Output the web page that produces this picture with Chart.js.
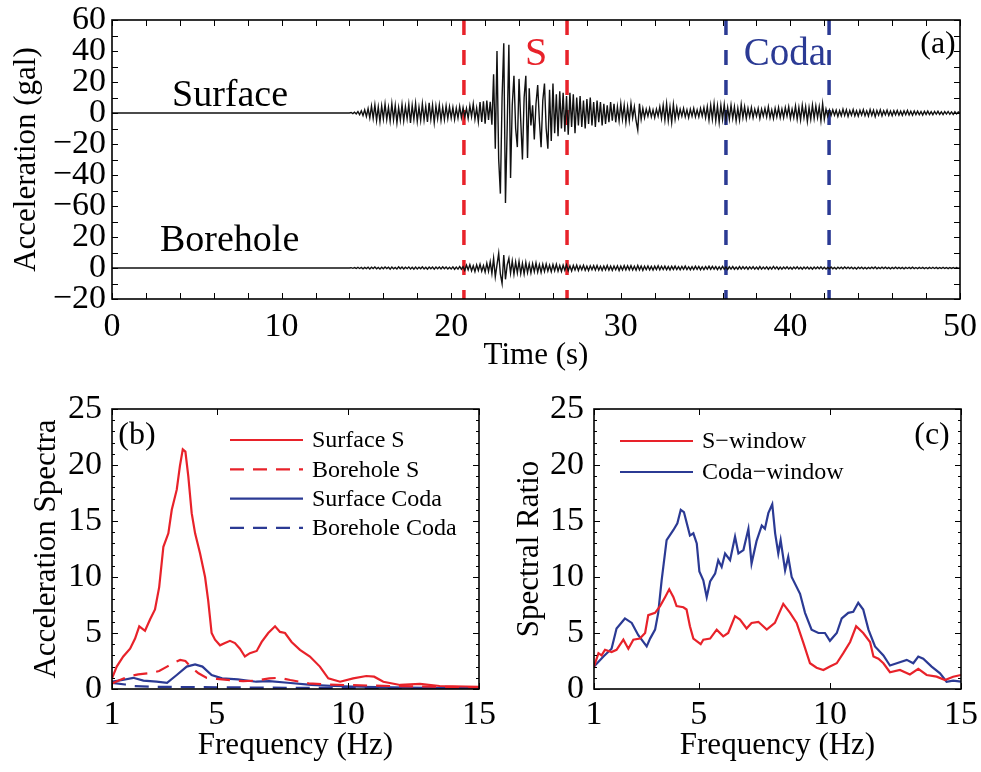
<!DOCTYPE html>
<html lang="en">
<head>
<meta charset="UTF-8">
<title>Surface and borehole records</title>
<script src="https://cdn.jsdelivr.net/npm/chart.js"></script>
<style>
    html, body { margin: 0; padding: 0; background: #fff; }
    #wrap { position: relative; width: 981px; height: 772px; }
    canvas { position: absolute; }
    #cA { left: 0; top: 0; }
    #cB { left: 0; top: 380px; }
    #cC { left: 490px; top: 380px; }
</style>
</head>
<body>
<div id="wrap">
    <canvas id="cA" width="981" height="380"></canvas>
    <canvas id="cB" width="510" height="392"></canvas>
    <canvas id="cC" width="491" height="392"></canvas>
</div>
<script>
// ---------- (a) acceleration time histories ----------
// samples start at traceStart (quiet before), one every sampleStep seconds
const traceStart = 14.0;
const sampleStep = 0.1;

const surfaceAcc = [
    0, 0.3, -0.4, 0.5, -0.6, 0.9, -1.1, 1.4, -1.6, 2.0, -2.2, 2.8, -3.2,
    4.5, -3.5, 5.2, -4.8, 3.9, -5.5, 4.6, -3.8, 5.8, -4.2,
    3.6, -5.1, 6.0, -4.4, 4.8, -6.2, 3.5, -4.6, 5.4, -5.0,
    4.2, -3.7, 5.6, -6.4, 4.9, -4.1, 6.2, -5.3, 3.8, -4.8,
    5.9, -4.5, 4.3, -5.7, 6.5, -4.0, 5.0, -6.1, 4.4, -3.6,
    5.1, -4.7, 3.7, -4.2, 4.6, -3.5, 4.0, -3.2, 3.6, -4.1,
    3.1, -3.3, 4.2, -2.8, 3.5,
    -2.6, 3.0, -3.5, 4.6, -2.4, 5.8, -4.0, 3.2, -5.5, 7.0,
    -5.8, 7.5, -6.9, 8.0, -4.5, 7.2, -7.6,
    25, -23, 40, -30, -52, 10, 45, -58, -10, 44,
    -42, 5, 24, -10, -22, 22, -5, -30, 10, 24,
    -29, 16, -8, 5, -17, 6, 18, -5, -22, 8,
    19, -10, -23, 15, -18, 19, -13, 12, -15, 14,
    -10, 13, -12, 11, -14, 13, -9, 12, -13, 10,
    -8, 11, -9, 8, -10, 9, -7, 10, -8, 7,
    -9, 8, -6, 7, -8, 6, -7, 5, -6, 7,
    -5, 6, -6, 4, -5, 6, -4, 5, -6, 4,
    -5, 6, -3, 4, -5, -11, 6, -4, 3, -3,
    2.5, -2, 3, -2.5, 2, -3, 2.5, -2, 4, -3.5,
    5, -4.5, 6, -5, 4, -6, 5.5, -4, 3.5, -3,
    2.5, -2, 3, -2.5, 2, -3, 2.5, -2, 3, -2.5,
    2, -2.5, 3, -2, 3.5, -3, 4, -4.5, 5, -4,
    6, -5, 4.5, -6, 5, -4, 5.5, -4.5, 3.5, -4,
    5, -3.5, 4, -5, 3, -4.5, 5.5, -3, 4, -3.5,
    3, -2.5, 3.5, -3, 2.5, -2, 3, -3.5, 2.5, -2,
    3, -2.5, 4, -3, 2, -3.5, 3, -2.5, 3.5, -3,
    2.5, -3, 3.5, -2, 4, -3.5, 2.5, -3, 4.5, -4,
    3.5, -4.5, 5, -3, 4, -5.4, 3.5, -4, 5, -3.5,
    4.5, -3, 4, -5, 6, -4, 2.5, -2, 2, -1.5,
    2, -1.5, 1.8, -2.2, 1.5, -1.8, 2.4, -1.6, 2, -2.2,
    1.6, -1.4, 2.2, -1.8, 1.5, -2, 1.8, -1.3, 2.1, -1.7,
    1.4, -1.9, 2.2, -1.5, 1.8, -2.3, 1.6, -1.4, 2, -1.8,
    1.5, -1.2, 1.8, -1.6, 1.3, -1.7, 1.5, -1.2, 1.6, -1.4,
    1.2, -1.5, 1.4, -1.1, 1.6, -1.3, 1.1, -1.4, 1.3, -1,
    1.2, -1.1, 1, -1.3, 1.1, -0.9, 1.2, -1, 0.9, -1.1,
    1, -0.8, 1.1, -0.9, 0.8, -1, 0.9, -0.7, 1, -0.8,
    0.7, -0.9, 0.8, -0.6, 0.7, 0
];

const boreholeAcc = [
    0, 0.2, -0.2, 0.3, -0.3, 0.4, -0.3, 0.4, -0.5, 0.4,
    -0.4, 0.5, -0.6, 0.5, -0.4, 0.6, -0.5, 0.4, -0.6, 0.5,
    -0.5, 0.6, -0.4, 0.5, -0.7, 0.6, -0.5, 0.4, -0.6, 0.7,
    -0.5, 0.6, -0.6, 0.5, -0.4, 0.7, -0.6, 0.5, -0.7, 0.6,
    -0.6, 0.5, -0.5, 0.7, -0.6, 0.5, -0.7, 0.6, -0.5, 0.6,
    -0.7, 0.6, -0.5, 0.6, -0.6, 0.7, -0.5, 0.6, -0.6, 0.5,
    -0.6, 0.7, -0.8, 0.6, -0.7, 0.9, -0.8, 0.8,
    -1.5, 1.8, -1.2, 2.2, -1.8, 1.4, -2.3, 2.0, -1.6, 2.4,
    -2.0, 1.6, -2.6, 3.0, -2.2, 4.0, -3.5,
    6.2, -5.6, 2, 9.5, -4, -10, 8.4, -7.3, 2, 6.2,
    -3.4, 4.5, -4, 3.8, -3.2, 4.2, -3.6, 3.0, -3.8, 3.5,
    -3, 2.6, -3.2, 2.8, -2.4, 3.2, -2.6, 2.2, -2.8, 2.4,
    -2.2, 2.6, -2, 1.8, -2.4, 2.2, -1.8, 2.4, -2, 1.6,
    -2.2, 1.8, -1.5, 2, -1.7, 1.4, -1.9, 1.6, -1.3, 1.8,
    -1.6, 1.4, -1.2, 1.7, -1.5, 1.2, -1.6, 1.4, -1.1, 1.5,
    -1.3, 1.6, -1.4, 1.1, -1.5, 1.3, -1.2, 1.6, -1.4, 1.2,
    -1.5, 1.3, -1.1, 1.4, -1.6, 1.2, -1.3, 1.5, -1.2, 1.4,
    -1.2, 1.5, -1.3, 1.1, -1.4, 1.6, -1.2, 1.3, -1.5, 1.1,
    -1.1, 1.3, -1.2, 1.0, -1.3, 1.2, -1.0, 1.4, -1.2, 1.1,
    -1.0, 1.2, -1.1, 0.9, -1.2, 1.1, -0.9, 1.2, -1.0, 0.9,
    -1.1, 1.0, -0.9, 1.2, -1.0, 0.8, -1.1, 0.9, -1.0, 1.1,
    -0.9, 1.0, -1.1, 0.8, -1.0, 0.9, -0.8, 1.1, -0.9, 1.0,
    -0.8, 0.9, -1.0, 0.8, -0.9, 1.0, -0.8, 0.7, -0.9, 0.8,
    -0.7, 0.9, -0.8, 0.6, -0.8, 0.9, -0.7, 0.8, -0.6, 0.7,
    -0.8, 0.7, -0.6, 0.8, -0.7, 0.6, -0.8, 0.9, -0.7, 0.6,
    -0.6, 0.7, -0.8, 0.6, -0.7, 1.0, -0.6, 0.7, -0.8, 0.6,
    -0.7, 0.6, -0.5, 0.7, -0.6, 0.5, -0.7, 0.6, -0.5, 0.7,
    -0.6, 0.5, -0.7, 0.6, -0.5, 0.6, -0.6, 0.5, -0.7, 0.6,
    -0.5, 0.6, -0.5, 0.7, -0.6, 0.5, -0.6, 0.4, -0.5, 0.6,
    -0.5, 0.4, -0.6, 0.5, -0.4, 0.5, -0.5, 0.6, -0.4, 0.5,
    -0.4, 0.5, -0.5, 0.4, -0.6, 0.5, -0.4, 0.5, -0.5, 0.4,
    -0.5, 0.4, -0.4, 0.5, -0.4, 0.6, -0.5, 0.4, -0.4, 0.5,
    -0.4, 0.5, -0.4, 0.4, -0.5, 0.4, -0.4, 0.5, -0.4, 0.4,
    -0.4, 0.4, -0.5, 0.4, -0.3, 0.4, -0.4, 0.5, -0.4, 0.3,
    -0.4, 0.4, -0.3, 0.4, -0.4, 0.3, -0.4, 0.4, -0.3, 0.4,
    -0.3, 0.4, -0.4, 0.3, -0.3, 0.4, -0.3, 0.3, -0.4, 0.3,
    -0.3, 0.3, -0.2, 0.3, -0.2, 0
];

const boreholeOffset = -100;        // gal, borehole trace is stacked below the surface one
const sWindow = [20.75, 26.83];     // s
const codaWindow = [36.2, 42.28];   // s
const timeRange = [0, 50];
const accRange = [-120, 60];

// ---------- (b) acceleration spectra ----------
const surfSFreq = [1.0, 1.18, 1.43, 1.69, 1.88, 2.04, 2.26, 2.45, 2.64, 2.8, 2.96, 3.15, 3.28, 3.47, 3.59,
    3.70, 3.80, 3.91, 4.04, 4.17, 4.36, 4.55, 4.67, 4.80, 4.93, 5.12, 5.31, 5.5, 5.69, 5.88, 6.07, 6.26,
    6.52, 6.71, 6.96, 7.22, 7.41, 7.60, 7.85, 8.17, 8.55, 8.93, 9.25, 9.70, 10.2, 10.7, 11.0, 11.35, 11.99,
    12.75, 13.5, 15.0];
const surfSVal = [0.95, 2.0, 2.9, 3.6, 4.5, 5.6, 5.2, 6.2, 7.1, 9.1, 12.7, 13.9, 16.0, 17.8, 19.9,
    21.4, 21.2, 19.0, 15.7, 13.9, 12.1, 10.0, 7.9, 5.0, 4.4, 3.9, 4.1, 4.3, 4.1, 3.6, 2.9, 3.2,
    3.4, 4.2, 5.0, 5.6, 5.1, 5.0, 4.2, 3.5, 2.9, 2.0, 0.95, 0.65, 0.95, 1.16, 1.1, 0.65, 0.36,
    0.45, 0.27, 0.2];

const boreSFreq = [1.0, 1.3, 1.6, 2.0, 2.4, 2.8, 3.1, 3.4, 3.6, 3.8, 4.0, 4.3, 4.6, 5.0, 5.5, 6.0,
    6.5, 7.0, 7.4, 7.8, 8.5, 9.2, 10.0, 11.0, 12.0, 13.5, 15.0];
const boreSVal = [0.5, 0.8, 1.1, 1.3, 1.4, 1.6, 2.0, 2.4, 2.6, 2.5, 2.0, 1.4, 1.0, 0.9, 0.8, 0.7,
    0.75, 0.95, 1.0, 0.8, 0.5, 0.4, 0.35, 0.3, 0.25, 0.2, 0.15];

const surfCodaFreq = [1.0, 1.4, 1.81, 2.2, 2.7, 3.1, 3.47, 3.85, 4.17, 4.45, 4.8, 5.2, 5.8, 6.5, 7.0,
    7.7, 8.6, 9.5, 10.5, 11.7, 13.0, 15.0];
const surfCodaVal = [0.65, 0.8, 1.0, 0.75, 0.65, 0.55, 1.25, 2.0, 2.2, 2.0, 1.25, 0.95, 0.86, 0.65, 0.7,
    0.56, 0.36, 0.27, 0.2, 0.15, 0.1, 0.06];

const boreCodaFreq = [1.0, 1.5, 1.81, 2.5, 3.5, 5.0, 7.0, 9.0, 11.0, 13.0, 15.0];
const boreCodaVal = [0.55, 0.4, 0.27, 0.2, 0.18, 0.15, 0.12, 0.1, 0.08, 0.07, 0.05];

// ---------- (c) spectral ratios ----------
const ratioSFreq = [1.0, 1.17, 1.29, 1.42, 1.67, 1.86, 2.12, 2.31, 2.5, 2.75, 2.95, 3.07, 3.33, 3.52, 3.71,
    3.87, 4.03, 4.15, 4.41, 4.53, 4.66, 4.79, 5.07, 5.17, 5.43, 5.68, 5.93, 6.12, 6.38, 6.57, 6.82, 7.01,
    7.27, 7.59, 7.9, 8.22, 8.48, 8.73, 8.99, 9.24, 9.49, 9.75, 10.0, 10.26, 10.51, 10.77, 11.0, 11.27,
    11.53, 11.66, 11.85, 12.04, 12.29, 12.67, 13.05, 13.37, 13.69, 14.07, 14.39, 14.7, 15.0];
const ratioSVal = [2.0, 3.2, 3.0, 3.5, 3.3, 3.5, 4.4, 3.6, 4.4, 4.5, 5.0, 6.6, 6.8, 7.4, 8.2,
    8.9, 8.2, 7.4, 7.3, 7.1, 5.6, 4.5, 4.0, 4.4, 4.5, 5.3, 4.7, 5.0, 6.5, 6.2, 5.4, 5.9,
    6.0, 5.3, 5.9, 7.6, 6.8, 5.9, 4.1, 2.3, 1.9, 1.7, 2.0, 2.3, 3.2, 4.2, 5.6, 5.0,
    4.2, 2.9, 2.7, 2.3, 1.5, 1.7, 1.3, 1.8, 1.25, 1.1, 0.8, 1.1, 1.25];

const ratioCodaFreq = [1.0, 1.36, 1.67, 1.86, 2.18, 2.44, 2.69, 3.01, 3.14, 3.33, 3.45, 3.58, 3.77, 4.03,
    4.18, 4.31, 4.43, 4.54, 4.66, 4.79, 4.92, 5.02, 5.17, 5.30, 5.43, 5.62, 5.74, 5.87, 6.0, 6.19, 6.38,
    6.51, 6.7, 6.89, 7.01, 7.2, 7.4, 7.52, 7.65, 7.8, 7.91, 8.03, 8.12, 8.29, 8.41, 8.54, 8.86, 9.05,
    9.3, 9.56, 9.81, 10.0, 10.26, 10.45, 10.7, 10.89, 11.08, 11.27, 11.47, 11.72, 12.04, 12.29, 12.55,
    12.93, 13.18, 13.37, 13.56, 13.88, 14.2, 14.45, 14.7, 15.0];
const ratioCodaVal = [2.0, 2.9, 3.6, 5.4, 6.3, 5.9, 4.8, 3.8, 4.5, 5.3, 6.8, 9.7, 13.3, 14.2,
    14.8, 16.0, 15.8, 14.8, 13.7, 13.9, 13.0, 10.5, 9.7, 8.2, 9.6, 10.3, 11.5, 10.9, 12.1, 11.5, 13.6,
    12.1, 12.4, 14.3, 11.2, 13.2, 14.6, 14.3, 15.7, 16.5, 13.9, 12.1, 13.3, 10.6, 11.8, 10.0, 8.5, 6.8,
    5.3, 5.0, 5.0, 4.3, 5.0, 6.3, 6.8, 6.9, 7.7, 7.1, 5.3, 3.8, 3.0, 2.1, 2.3,
    2.6, 2.3, 2.9, 2.7, 2.0, 1.4, 0.65, 0.75, 0.65];

const freqTicks = [1, 5, 10, 15];
const ampRange = [0, 25];

// ---------- style ----------
const RED = '#e8222a';
const BLUE = '#2b3a94';
const SERIF = '"Liberation Serif", "Times New Roman", serif';
const tickFont = { family: SERIF, size: 34, lineHeight: 1 };
const titleFont = { family: SERIF, size: 31, lineHeight: 1 };

function tracePoints(vals, shift) {
    const pts = [{ x: timeRange[0], y: shift }];
    vals.forEach((v, i) => pts.push({ x: traceStart + i * sampleStep, y: v + shift }));
    return pts;
}
function windowLine(t) {
    return [{ x: t, y: accRange[1] }, { x: t, y: accRange[0] }];
}
function pairs(xs, ys) {
    return xs.map((x, i) => ({ x: x, y: ys[i] }));
}
function minusSign(v) {
    return String(v).replace('-', '\u2212');
}
// keep the plot box where it is, tick labels may overhang the edges
function noOverhang(s) {
    s.paddingLeft = 0; s.paddingRight = 0; s.paddingTop = 0; s.paddingBottom = 0;
}

// inward ticks on all four sides plus the box, matlab style
const framePlugin = {
    id: 'frame',
    afterDatasetsDraw(chart, args, opts) {
        const { ctx, chartArea: a, scales: { x, y } } = chart;
        ctx.save();
        ctx.strokeStyle = '#000';
        ctx.lineWidth = 1;
        ctx.beginPath();
        const xMarks = opts.xMarks || [];
        const yMarks = opts.yMarks || [];
        xMarks.forEach(([v, len]) => {
            const px = Math.round(x.getPixelForValue(v)) + 0.5;
            ctx.moveTo(px, a.bottom); ctx.lineTo(px, a.bottom - len);
            ctx.moveTo(px, a.top); ctx.lineTo(px, a.top + len);
        });
        yMarks.forEach(([v, len]) => {
            const py = Math.round(y.getPixelForValue(v)) + 0.5;
            ctx.moveTo(a.left, py); ctx.lineTo(a.left + len, py);
            ctx.moveTo(a.right, py); ctx.lineTo(a.right - len, py);
        });
        ctx.stroke();
        ctx.lineWidth = 1.6;
        ctx.strokeRect(a.left, a.top, a.right - a.left, a.bottom - a.top);
        ctx.restore();
    }
};

// free text placed relative to the plot box
const notePlugin = {
    id: 'notes',
    afterDatasetsDraw(chart, args, opts) {
        const { ctx, chartArea: a } = chart;
        ctx.save();
        (opts.items || []).forEach(n => {
            ctx.font = n.size + 'px ' + SERIF;
            ctx.fillStyle = n.color || '#000';
            ctx.textAlign = n.align || 'left';
            ctx.textBaseline = n.baseline || 'alphabetic';
            ctx.fillText(n.text, a.left + n.dx, a.top + n.dy);
        });
        ctx.restore();
    }
};

// legend inside the plot box
const boxLegendPlugin = {
    id: 'boxLegend',
    afterDatasetsDraw(chart, args, opts) {
        if (!opts.dx) return;
        const { ctx, chartArea: a } = chart;
        ctx.save();
        ctx.font = '24px ' + SERIF;
        ctx.textBaseline = 'middle';
        ctx.textAlign = 'left';
        chart.data.datasets.forEach((ds, i) => {
            const yy = a.top + opts.dy + i * opts.gap;
            const x0 = a.left + opts.dx;
            ctx.strokeStyle = ds.borderColor;
            ctx.lineWidth = ds.borderWidth;
            ctx.setLineDash(ds.borderDash || []);
            ctx.beginPath();
            ctx.moveTo(x0, yy);
            ctx.lineTo(x0 + opts.len, yy);
            ctx.stroke();
            ctx.setLineDash([]);
            ctx.fillStyle = '#000';
            ctx.fillText(ds.label, x0 + opts.len + 9, yy + 1);
        });
        ctx.restore();
    }
};

const plainPlugins = { legend: { display: false }, tooltip: { enabled: false } };

// ---------- chart (a) ----------
new Chart(document.getElementById('cA'), {
    type: 'line',
    data: {
        datasets: [
            { data: tracePoints(surfaceAcc, 0), borderColor: '#111', borderWidth: 1.4 },
            { data: tracePoints(boreholeAcc, boreholeOffset), borderColor: '#111', borderWidth: 1.4 },
            { data: windowLine(sWindow[0]), borderColor: RED, borderWidth: 3.5, borderDash: [15, 15] },
            { data: windowLine(sWindow[1]), borderColor: RED, borderWidth: 3.5, borderDash: [15, 15] },
            { data: windowLine(codaWindow[0]), borderColor: BLUE, borderWidth: 3.5, borderDash: [15, 15] },
            { data: windowLine(codaWindow[1]), borderColor: BLUE, borderWidth: 3.5, borderDash: [15, 15] }
        ]
    },
    options: {
        responsive: false,
        animation: false,
        elements: { point: { radius: 0 }, line: { tension: 0 } },
        layout: { padding: { left: 0, top: 20, right: 21, bottom: 0 } },
        plugins: {
            ...plainPlugins,
            frame: {
                xMarks: [0, 2, 4, 6, 8, 10, 12, 14, 16, 18, 20, 22, 24, 26, 28, 30, 32, 34, 36, 38, 40, 42, 44, 46, 48, 50].map(v => [v, 6]),
                yMarks: [-120, -110, -100, -90, -80, -70, -60, -50, -40, -30, -20, -10, 0, 10, 20, 30, 40, 50, 60].map(v => [v, 6])
            },
            notes: {
                items: [
                    { text: 'Surface', size: 38, dx: 60, dy: 86 },
                    { text: 'Borehole', size: 38, dx: 48, dy: 231 },
                    { text: 'S', size: 40, color: RED, dx: 424, dy: 45, align: 'center' },
                    { text: 'Coda', size: 39, color: BLUE, dx: 673, dy: 45, align: 'center' },
                    { text: '(a)', size: 32, dx: 826, dy: 25, align: 'center', baseline: 'middle' }
                ]
            }
        },
        scales: {
            x: {
                type: 'linear', min: timeRange[0], max: timeRange[1],
                grid: { display: false, drawTicks: false }, border: { display: false },
                ticks: { stepSize: 10, font: tickFont, color: '#000', padding: 11, maxRotation: 0, autoSkip: false },
                title: { display: true, text: 'Time (s)', font: titleFont, color: '#000', padding: { top: 0, bottom: 9 } },
                afterFit(s) { s.height = 81; noOverhang(s); }
            },
            y: {
                type: 'linear', min: accRange[0], max: accRange[1],
                grid: { display: false, drawTicks: false }, border: { display: false },
                ticks: {
                    stepSize: 20, font: tickFont, color: '#000', padding: 6, autoSkip: false,
                    callback: v => minusSign(v < -60 ? v - boreholeOffset : v)
                },
                title: { display: true, text: 'Acceleration (gal)', font: titleFont, color: '#000', padding: { top: 11, bottom: 0 } },
                afterFit(s) { s.width = 112; noOverhang(s); }
            }
        }
    },
    plugins: [framePlugin, notePlugin]
});

// ---------- charts (b) and (c) ----------
function spectrumScales(yTitle, yWidth, titlePad) {
    return {
        x: {
            type: 'linear', min: freqTicks[0], max: freqTicks[freqTicks.length - 1],
            grid: { display: false, drawTicks: false }, border: { display: false },
            afterBuildTicks(s) { s.ticks = freqTicks.map(v => ({ value: v })); },
            ticks: { font: tickFont, color: '#000', padding: 9, maxRotation: 0, autoSkip: false },
            title: { display: true, text: 'Frequency (Hz)', font: titleFont, color: '#000', padding: { top: 0, bottom: 11 } },
            afterFit(s) { s.height = 83; noOverhang(s); }
        },
        y: {
            type: 'linear', min: ampRange[0], max: ampRange[1],
            grid: { display: false, drawTicks: false }, border: { display: false },
            ticks: { stepSize: 5, font: tickFont, color: '#000', padding: 10, autoSkip: false },
            title: { display: true, text: yTitle, font: titleFont, color: '#000', padding: { top: titlePad, bottom: 0 } },
            afterFit(s) { s.width = yWidth; noOverhang(s); }
        }
    };
}
const specMarks = {
    xMarks: freqTicks.map(v => [v, 6]),
    yMarks: Array.from({ length: 26 }, (_, i) => [i, i % 5 === 0 ? 6 : 3])
};

new Chart(document.getElementById('cB'), {
    type: 'line',
    data: {
        datasets: [
            { label: 'Surface S', data: pairs(surfSFreq, surfSVal), borderColor: RED, borderWidth: 2.2 },
            { label: 'Borehole S', data: pairs(boreSFreq, boreSVal), borderColor: RED, borderWidth: 2.2, borderDash: [14, 9] },
            { label: 'Surface Coda', data: pairs(surfCodaFreq, surfCodaVal), borderColor: BLUE, borderWidth: 2.2 },
            { label: 'Borehole Coda', data: pairs(boreCodaFreq, boreCodaVal), borderColor: BLUE, borderWidth: 2.2, borderDash: [14, 9] }
        ]
    },
    options: {
        responsive: false,
        animation: false,
        elements: { point: { radius: 0 }, line: { tension: 0 } },
        layout: { padding: { left: 0, top: 29, right: 31, bottom: 0 } },
        plugins: {
            ...plainPlugins,
            frame: specMarks,
            boxLegend: { dx: 118, dy: 31, gap: 29.3, len: 73 },
            notes: { items: [{ text: '(b)', size: 32, dx: 25, dy: 27, align: 'center', baseline: 'middle' }] }
        },
        scales: spectrumScales('Acceleration Spectra', 112, 31)
    },
    plugins: [framePlugin, boxLegendPlugin, notePlugin]
});

new Chart(document.getElementById('cC'), {
    type: 'line',
    data: {
        datasets: [
            { label: 'S\u2212window', data: pairs(ratioSFreq, ratioSVal), borderColor: RED, borderWidth: 2.2 },
            { label: 'Coda\u2212window', data: pairs(ratioCodaFreq, ratioCodaVal), borderColor: BLUE, borderWidth: 2.2 }
        ]
    },
    options: {
        responsive: false,
        animation: false,
        elements: { point: { radius: 0 }, line: { tension: 0 } },
        layout: { padding: { left: 0, top: 29, right: 20, bottom: 0 } },
        plugins: {
            ...plainPlugins,
            frame: specMarks,
            boxLegend: { dx: 26, dy: 32, gap: 31, len: 73 },
            notes: { items: [{ text: '(c)', size: 32, dx: 338, dy: 27, align: 'center', baseline: 'middle' }] }
        },
        scales: spectrumScales('Spectral Ratio', 104, 24)
    },
    plugins: [framePlugin, boxLegendPlugin, notePlugin]
});
</script>
</body>
</html>
